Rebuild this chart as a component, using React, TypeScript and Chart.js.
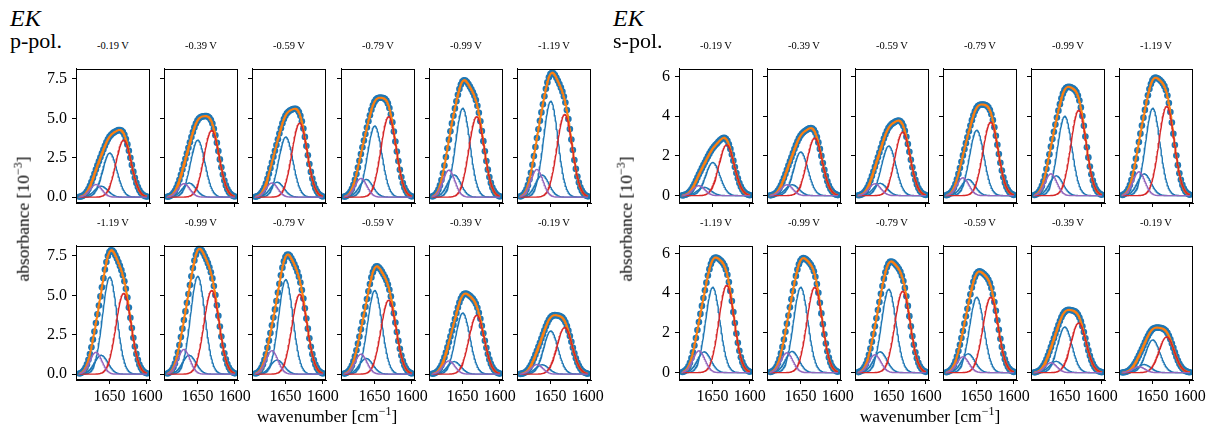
import React, { useEffect, useRef } from "react";
import { Chart, registerables } from "chart.js";
Chart.register(...registerables);

// measured wavenumbers of the data points (cm^-1)
const WAVENUMBERS = [
  1600, 1602, 1604, 1606, 1608, 1610, 1612, 1614, 1616, 1618, 1620, 1622, 1624, 1626, 1628, 1630,
  1632, 1634, 1636, 1638, 1640, 1642, 1644, 1646, 1648, 1650, 1652, 1654, 1656, 1658, 1660, 1662,
  1664, 1666, 1668, 1670, 1672, 1674, 1676, 1678, 1680, 1682, 1684, 1686, 1688, 1690,
];

const TITLES_TOP = ["-0.19 V", "-0.39 V", "-0.59 V", "-0.79 V", "-0.99 V", "-1.19 V"];
const TITLES_BOTTOM = ["-1.19 V", "-0.99 V", "-0.79 V", "-0.59 V", "-0.39 V", "-0.19 V"];

const X_TICKS = [1650, 1600];
const P_TICKS = [0, 2.5, 5, 7.5];
const S_TICKS = [0, 2, 4, 6];

// fitted band components: purple, second blue, blue, red
const CENTERS = [1668, 1661, 1649.5, 1631];
const SIGMAS = [8, 9, 9.6, 10.2];
const COLORS = ["#9467bd", "#1f77b4", "#1f77b4", "#d62728"];

// band heights (10^-3) per panel, p-pol top row
const P_TOP_PURPLE = [0.8, 0.86, 0.9, 1.19, 1.72, 1.76];
const P_TOP_BLUE2 = [0.7, 0.9, 0.95, 1.13, 1.41, 1.4];
const P_TOP_BLUE = [2.8, 3.62, 3.82, 4.52, 5.64, 6.09];
const P_TOP_RED = [3.62, 4.23, 4.7, 5.11, 5.11, 5.25];
// p-pol bottom row
const P_BOT_PURPLE = [1.39, 1.57, 1.49, 1.27, 0.84, 0.61];
const P_BOT_BLUE2 = [1.2, 1.2, 0.9, 1.0, 0.8, 0.6];
const P_BOT_BLUE = [6.17, 6.21, 6.0, 5.31, 3.88, 2.74];
const P_BOT_RED = [5.13, 5.31, 5.07, 4.7, 3.74, 2.96];
// s-pol top row
const S_TOP_PURPLE = [0.5, 0.55, 0.6, 0.9, 1.1, 1.2];
const S_TOP_BLUE2 = [0.42, 0.55, 0.62, 0.82, 1.0, 1.1];
const S_TOP_BLUE = [1.67, 2.2, 2.5, 3.3, 4.0, 4.4];
const S_TOP_RED = [2.56, 2.9, 3.2, 3.7, 4.3, 4.5];
// s-pol bottom row
const S_BOT_PURPLE = [1.1, 1.0, 0.9, 0.8, 0.5, 0.3];
const S_BOT_BLUE2 = [1.05, 1.07, 1.05, 0.95, 0.57, 0.41];
const S_BOT_BLUE = [4.3, 4.3, 4.2, 3.8, 2.3, 1.65];
const S_BOT_RED = [4.4, 4.3, 4.1, 3.8, 2.5, 1.8];

const FONT = "'Liberation Serif', 'DejaVu Serif', serif";

const X_MIN = 1595.8;
const X_MAX = 1694.6;
const Y_MIN = -0.37;
const P_Y_MAX = 8.16;
const S_Y_MAX = 6.4;

const LEFT_COLS = [76, 164, 252, 341, 429, 517];
const RIGHT_COLS = [679, 767, 855, 943, 1031, 1119];
const ROWS = [57, 234];
const PANEL_W = 74;
const PANEL_H = 146;

function gauss(x: number, h: number, c: number, s: number) {
  return h * Math.exp(-((x - c) * (x - c)) / (2 * s * s));
}

const framePlugin = {
  id: "frame",
  afterDraw(chart: any) {
    const { ctx, chartArea: a } = chart;
    ctx.save();
    ctx.strokeStyle = "#000";
    ctx.lineWidth = 1;
    ctx.strokeRect(Math.round(a.left) + 0.5, Math.round(a.top) + 0.5, Math.round(a.right - a.left) - 1, Math.round(a.bottom - a.top) - 1);
    ctx.restore();
  },
};

type PanelProps = {
  left: number;
  top: number;
  heights: number[];
  yMax: number;
  yTicks: number[];
  yFmt: (v: number) => string;
  showY: boolean;
  showX: boolean;
};

const PL = 62;
const PR = 24;
const PT = 3;
const PB = 32;

function Panel(p: PanelProps) {
  const ref = useRef<HTMLCanvasElement>(null);
  useEffect(() => {
    if (!ref.current) return;
    const fine: number[] = [];
    for (let x = WAVENUMBERS[0]; x <= WAVENUMBERS[WAVENUMBERS.length - 1] + 1e-6; x += 0.5) fine.push(x);
    const comps = p.heights.map((h, i) => fine.map((x) => ({ x, y: gauss(x, h, CENTERS[i], SIGMAS[i]) })));
    const total = fine.map((x, k) => ({ x, y: comps.reduce((s, c) => s + c[k].y, 0) }));
    const dots = WAVENUMBERS.map((x) => ({
      x,
      y: p.heights.reduce((s, h, i) => s + gauss(x, h, CENTERS[i], SIGMAS[i]), 0),
    }));
    const lineDs = (data: any, color: string, width: number, order: number) => ({
      data,
      showLine: true,
      borderColor: color,
      borderWidth: width,
      pointRadius: 0,
      fill: false,
      tension: 0,
      order,
    });
    const datasets: any[] = [
      { data: dots, pointRadius: 3.3, pointBackgroundColor: "#1f77b4", pointBorderWidth: 0, showLine: false, order: 10 },
      lineDs(total, "#ff7f0e", 2, 9),
      lineDs(comps[1], COLORS[1], 1.4, 8),
      lineDs(comps[2], COLORS[2], 1.4, 7),
      lineDs(comps[3], COLORS[3], 1.4, 6),
      lineDs(comps[0], COLORS[0], 1.4, 5),
    ];
    const chart = new Chart(ref.current, {
      type: "scatter",
      data: { datasets },
      options: {
        responsive: false,
        animation: false,
        devicePixelRatio: 1,
        layout: { padding: { left: 0, right: PR, top: PT, bottom: 0 } },
        plugins: { legend: { display: false }, tooltip: { enabled: false } },
        scales: {
          x: {
            type: "linear",
            min: X_MIN,
            max: X_MAX,
            reverse: true,
            afterFit: (s: any) => {
              s.height = PB;
            },
            afterBuildTicks: (s: any) => {
              s.ticks = X_TICKS.map((v) => ({ value: v }));
            },
            ticks: {
              autoSkip: false,
              maxRotation: 0,
              color: "#000",
              padding: 3,
              font: { family: FONT, size: 16 },
              callback: (v: any) => (p.showX ? String(v) : ""),
            },
            grid: { drawOnChartArea: false, drawTicks: true, tickLength: 4, color: "#000", lineWidth: 1 },
            border: { display: true, color: "#000", width: 1 },
          },
          y: {
            type: "linear",
            min: Y_MIN,
            max: p.yMax,
            afterFit: (s: any) => {
              s.width = PL;
            },
            afterBuildTicks: (s: any) => {
              s.ticks = p.yTicks.map((v) => ({ value: v }));
            },
            ticks: {
              autoSkip: false,
              color: "#000",
              padding: 5,
              font: { family: FONT, size: 16 },
              callback: (v: any) => (p.showY ? p.yFmt(Number(v)) : ""),
            },
            grid: { drawOnChartArea: false, drawTicks: true, tickLength: 4, color: "#000", lineWidth: 1 },
            border: { display: true, color: "#000", width: 1 },
          },
        },
      },
      plugins: [framePlugin],
    } as any);
    return () => chart.destroy();
  }, []);
  return (
    <canvas
      ref={ref}
      width={PANEL_W + PL + PR}
      height={PANEL_H + PT + PB}
      style={{ position: "absolute", left: p.left - PL, top: p.top - PT, width: PANEL_W + PL + PR, height: PANEL_H + PT + PB }}
    />
  );
}

const textBase: React.CSSProperties = { position: "absolute", fontFamily: FONT, color: "#000", lineHeight: 1, whiteSpace: "nowrap" };

function Group(props: {
  cols: number[];
  rows: { titles: string[]; purple: number[]; blue2: number[]; blue: number[]; red: number[] }[];
  yMax: number;
  yTicks: number[];
  yFmt: (v: number) => string;
  label: string;
  xLabelCenter: number;
  yLabelCenter: number;
  headX: number;
}) {
  const items: React.ReactNode[] = [];
  props.rows.forEach((row, r) => {
    props.cols.forEach((cx, c) => {
      items.push(
        <Panel
          key={`p${r}-${c}`}
          left={cx}
          top={ROWS[r]}
          heights={[row.purple[c], row.blue2[c], row.blue[c], row.red[c]]}
          yMax={props.yMax}
          yTicks={props.yTicks}
          yFmt={props.yFmt}
          showY={c === 0}
          showX={r === 1}
        />
      );
      items.push(
        <div
          key={`t${r}-${c}`}
          style={{ ...textBase, fontSize: 10.5, left: cx + PANEL_W / 2, top: ROWS[r] - 16, transform: "translateX(-50%)" }}
        >
          {row.titles[c]}
        </div>
      );
    });
  });
  return (
    <>
      {items}
      <div style={{ ...textBase, fontSize: 24, fontStyle: "italic", left: props.headX, top: 6 }}>EK</div>
      <div style={{ ...textBase, fontSize: 22, left: props.headX, top: 30 }}>{props.label}</div>
      <div
        style={{
          ...textBase,
          fontSize: 17.5,
          left: props.yLabelCenter,
          top: 219,
          transform: "translate(-50%,-50%) rotate(-90deg)",
        }}
      >
        absorbance [10<span style={{ fontSize: 12, verticalAlign: 7 }}>−3</span>]
      </div>
      <div style={{ ...textBase, fontSize: 17.5, left: props.xLabelCenter, top: 405, transform: "translateX(-50%)" }}>
        wavenumber [cm<span style={{ fontSize: 12, verticalAlign: 7 }}>−1</span>]
      </div>
    </>
  );
}

export default function App() {
  return (
    <div style={{ position: "absolute", left: 0, top: 0, width: 1215, height: 427, background: "#fff", overflow: "hidden" }}>
      <Group
        cols={LEFT_COLS}
        rows={[
          { titles: TITLES_TOP, purple: P_TOP_PURPLE, blue2: P_TOP_BLUE2, blue: P_TOP_BLUE, red: P_TOP_RED },
          { titles: TITLES_BOTTOM, purple: P_BOT_PURPLE, blue2: P_BOT_BLUE2, blue: P_BOT_BLUE, red: P_BOT_RED },
        ]}
        yMax={P_Y_MAX}
        yTicks={P_TICKS}
        yFmt={(v) => v.toFixed(1)}
        label="p-pol."
        xLabelCenter={327}
        yLabelCenter={22}
        headX={10}
      />
      <Group
        cols={RIGHT_COLS}
        rows={[
          { titles: TITLES_TOP, purple: S_TOP_PURPLE, blue2: S_TOP_BLUE2, blue: S_TOP_BLUE, red: S_TOP_RED },
          { titles: TITLES_BOTTOM, purple: S_BOT_PURPLE, blue2: S_BOT_BLUE2, blue: S_BOT_BLUE, red: S_BOT_RED },
        ]}
        yMax={S_Y_MAX}
        yTicks={S_TICKS}
        yFmt={(v) => String(v)}
        label="s-pol."
        xLabelCenter={930}
        yLabelCenter={625}
        headX={613}
      />
    </div>
  );
}
